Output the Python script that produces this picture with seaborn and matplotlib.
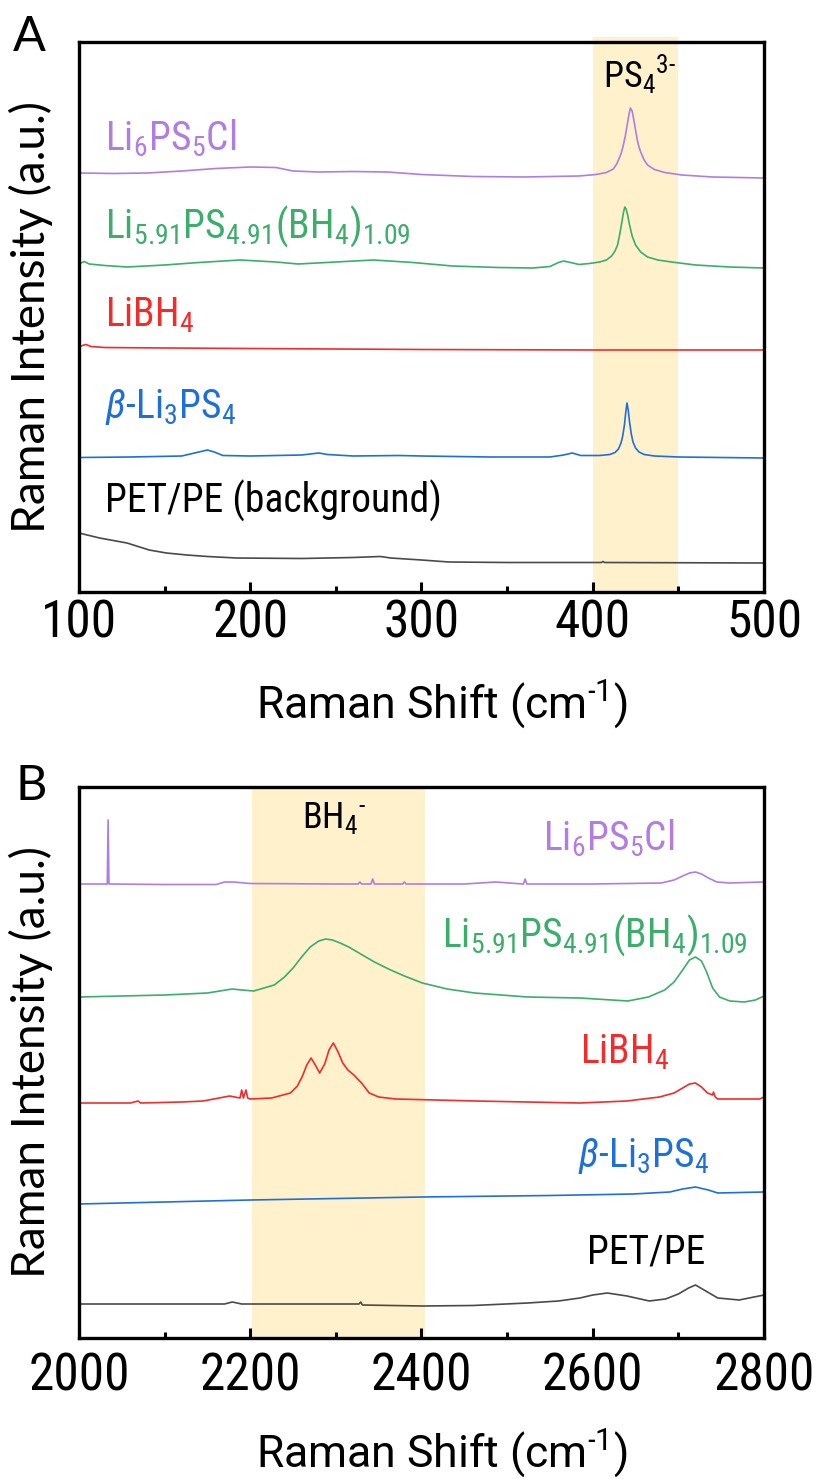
import numpy as np
import pandas as pd
import seaborn as sns
import matplotlib
matplotlib.use("Agg")
import matplotlib.pyplot as plt
import matplotlib.font_manager as fm
from matplotlib.ticker import MultipleLocator

# ---------------- data (panel A, 100-500 cm-1) ----------------
a_li6_x = [100, 120, 140, 160, 180, 200, 215, 225, 240, 260, 280, 300, 330, 360, 392, 402, 408, 412, 414,
           416, 417, 418, 419, 420, 421, 422, 423, 424, 425, 426, 427, 428, 430, 432, 436, 442, 452, 470, 500]
a_li6_y = [419, 418.5, 419, 421, 423.5, 425, 424.5, 421, 420, 420.5, 420, 417.5, 415.5, 415, 416, 417.5,
           419.5, 423, 428, 436, 441, 448, 456, 466, 476, 484, 481, 472, 462, 452, 445, 440, 432, 427, 422.5,
           419.5, 417, 415, 414]

a_lpsb_x = [100, 103, 106, 115, 128, 150, 170, 194, 215, 228, 250, 272, 295, 318, 345, 365, 375, 380, 383,
            387, 392, 398, 404, 408, 411, 413, 414.5, 416, 417, 418, 418.7, 419.5, 420.5, 421.5, 423, 425,
            428, 432, 438, 446, 460, 480, 500]
a_lpsb_y = [328, 330.5, 328, 326.5, 325, 327, 329.5, 332, 330, 328, 330, 332, 329.5, 326, 324.5, 324, 325.5,
            329.5, 331, 329.5, 327.5, 328.5, 330, 332, 336, 341, 347, 360, 370, 380, 385, 383, 376, 367, 356,
            347, 340, 335, 332, 330, 327, 325, 324]

a_libh4_x = [100, 102, 104, 107, 115, 150, 200, 300, 400, 500]
a_libh4_y = [245, 246.5, 247.5, 245.5, 244.5, 244, 243.5, 242.5, 242, 242]

a_beta_x = [100, 130, 160, 170, 175, 179, 184, 200, 230, 240, 245, 260, 287, 300, 340, 375, 383, 388, 393,
            404, 410, 413, 415, 416.5, 417.5, 418.5, 419.3, 420, 420.7, 421.5, 422.5, 423.5, 425, 427, 430,
            436, 450, 500]
a_beta_y = [134.5, 135, 136, 140, 142, 140, 136.5, 136, 137, 139, 137.5, 136, 136.5, 136, 135, 135, 137, 139,
            136.5, 136.5, 137.5, 139.5, 143, 149, 156, 167, 180, 189, 182, 170, 158, 150, 144, 140, 137.5,
            136, 135, 134]

a_pet_x = [100, 112, 128, 141, 151, 163, 175, 192, 230, 260, 276, 282, 300, 316, 350, 405, 406, 407, 500]
a_pet_y = [59, 54, 49, 42, 39, 37, 35.5, 34, 33.5, 34.5, 35.5, 34, 32, 30, 29.5, 29.5, 30.5, 29.5, 29]

# ---------------- data (panel B, 2000-2800 cm-1) ----------------
b_li6_x = [2000, 2030, 2033, 2034, 2035, 2100, 2160, 2170, 2180, 2200, 2300, 2326, 2328, 2330, 2341, 2343,
           2345, 2378, 2380, 2382, 2450, 2487, 2510, 2519, 2521, 2523, 2600, 2680, 2695, 2705, 2713, 2720,
           2727, 2735, 2745, 2760, 2800]
b_li6_y = [454, 454, 454, 518, 454, 453.5, 453.5, 456, 456, 454.5, 454, 454, 456, 454, 454, 459, 454, 454,
           456, 454, 454, 456, 454.5, 454, 459, 454, 454, 455, 458, 462, 465, 466, 464, 460, 456, 455, 456]

b_lpsb_x = [2000, 2050, 2100, 2150, 2179, 2190, 2204, 2228, 2240, 2250, 2260, 2270, 2280, 2288, 2296, 2305,
            2315, 2327, 2345, 2364, 2380, 2401, 2430, 2462, 2524, 2585, 2641, 2665, 2684, 2695, 2705, 2713,
            2720, 2727, 2733, 2740, 2748, 2760, 2777, 2790, 2800]
b_lpsb_y = [341, 342, 343, 345, 349, 348, 347, 353, 361, 370, 381, 391, 397, 399, 398, 395, 391, 385, 376,
            368, 362, 355, 349, 345, 341, 340, 337, 341, 348, 356, 368, 378, 381, 377, 366, 350, 341, 337, 336,
            338, 342]

b_libh4_x = [2000, 2060, 2069, 2072, 2120, 2145, 2176, 2188, 2190, 2192, 2195, 2197, 2200, 2225, 2247, 2255,
             2261, 2266, 2271, 2276, 2281, 2287, 2292, 2297, 2302, 2308, 2314, 2321, 2330, 2339, 2350, 2370,
             2463, 2585, 2640, 2678, 2695, 2705, 2713, 2720, 2727, 2734, 2740, 2741, 2743, 2746, 2795, 2800]
b_libh4_y = [235, 235, 237, 235, 236, 237, 242, 240, 248, 240, 248, 240, 239, 240, 245, 252, 262, 273, 280,
             273, 265, 274, 288, 295, 287, 275, 268, 263, 255, 245, 241, 239, 237, 235, 237, 241, 245, 250,
             254, 255, 251, 245, 243, 246, 241, 239, 239, 241]

b_beta_x = [2000, 2200, 2401, 2550, 2647, 2690, 2705, 2720, 2735, 2746, 2800]
b_beta_y = [134, 138, 141, 142.5, 144, 146, 149, 151, 148, 145, 146]

b_pet_x = [2000, 2170, 2179, 2190, 2327, 2329, 2331, 2401, 2460, 2524, 2560, 2585, 2600, 2617, 2640, 2666,
           2685, 2700, 2712, 2720, 2730, 2746, 2771, 2800]
b_pet_y = [34, 34, 36, 34, 34, 36, 33, 32, 32.5, 35, 37, 40, 43, 45, 42, 37, 39, 44, 50, 53, 48, 40, 38, 43]

labels_a = [r"Li$_6$PS$_5$Cl", r"Li$_{5.91}$PS$_{4.91}$(BH$_4$)$_{1.09}$", r"LiBH$_4$",
            r"$\mathit{\beta}$-Li$_3$PS$_4$", "PET/PE (background)"]
labels_b = [r"Li$_6$PS$_5$Cl", r"Li$_{5.91}$PS$_{4.91}$(BH$_4$)$_{1.09}$", r"LiBH$_4$",
            r"$\mathit{\beta}$-Li$_3$PS$_4$", "PET/PE"]
colors = ["#B27DE0", "#3BAE6B", "#F52A2A", "#1F6FDB", "#4A4A4A"]
label_colors = ["#B27DE0", "#3BAE6B", "#F52A2A", "#1F6FDB", "black"]
shade_color = "#FEF1CC"

# ---------------- style ----------------
sns.set_theme(style="ticks")
avail = {f.name for f in fm.fontManager.ttflist}
FONT = "DejaVu Sans"
for cand in ["Roboto Condensed", "Liberation Sans Narrow", "Open Sans Condensed", "Lato"]:
    if cand in avail:
        FONT = cand
        break
YFONT = "Lato" if "Lato" in avail else FONT
XFONT = "Roboto" if "Roboto" in avail else FONT
plt.rcParams["font.family"] = [FONT, "DejaVu Sans"]
plt.rcParams["text.color"] = "black"
plt.rcParams["axes.labelcolor"] = "black"
plt.rcParams["xtick.color"] = "black"
plt.rcParams["mathtext.fontset"] = "custom"
plt.rcParams["mathtext.rm"] = FONT
plt.rcParams["mathtext.it"] = FONT + ":italic"
plt.rcParams["mathtext.default"] = "regular"

fig = plt.figure(figsize=(8.28, 14.79), dpi=100)
axA = fig.add_axes([79 / 828, 1 - 592 / 1479, 685 / 828, 550 / 1479])
axB = fig.add_axes([79 / 828, 1 - 1338 / 1479, 685 / 828, 551 / 1479])

seriesA = [(a_li6_x, a_li6_y), (a_lpsb_x, a_lpsb_y), (a_libh4_x, a_libh4_y), (a_beta_x, a_beta_y),
           (a_pet_x, a_pet_y)]
seriesB = [(b_li6_x, b_li6_y), (b_lpsb_x, b_lpsb_y), (b_libh4_x, b_libh4_y), (b_beta_x, b_beta_y),
           (b_pet_x, b_pet_y)]

for ax, series in [(axA, seriesA), (axB, seriesB)]:
    for (xs, ys), c in zip(series, colors):
        df = pd.DataFrame({"x": xs, "y": ys})
        sns.lineplot(data=df, x="x", y="y", ax=ax, color=c, lw=1.2, estimator=None, sort=False,
                     zorder=3)

axA.set_xlim(100, 500)
axA.set_ylim(0, 550)
axB.set_xlim(2000, 2800)
axB.set_ylim(0, 551)

axA.axvspan(400, 450, ymin=0, ymax=1.009, color=shade_color, lw=0, zorder=0, clip_on=False)
axB.axvspan(2202, 2404, ymin=0, ymax=0.997, color=shade_color, lw=0, zorder=0)

axA.xaxis.set_major_locator(MultipleLocator(100))
axA.xaxis.set_minor_locator(MultipleLocator(50))
axB.xaxis.set_major_locator(MultipleLocator(200))
axB.xaxis.set_minor_locator(MultipleLocator(100))

xlabel = r"Raman Shift (cm$^{\text{-}1}$)"
for ax, pad in [(axA, 5), (axB, 10)]:
    ax.set_yticks([])
    for s in ax.spines.values():
        s.set_linewidth(2.4)
        s.set_color("black")
        s.set_zorder(5)
    ax.tick_params(axis="x", which="major", direction="in", length=7, width=2.2, labelsize=37,
                   pad=pad, colors="black", top=False)
    ax.tick_params(axis="x", which="minor", direction="in", length=4, width=2.2, top=False)
    ax.set_xlabel(xlabel, fontsize=32, family=XFONT, va="baseline", color="black")
    ax.set_ylabel("Raman Intensity (a.u.)", fontsize=33, family=YFONT, va="baseline", color="black")
    ax.yaxis.set_label_coords(-0.0496, 0.5)
    ax.set_facecolor("white")

axA.xaxis.set_label_coords(0.53, -0.229)
axB.xaxis.set_label_coords(0.53, -0.234)

# series labels
posA = [(115, 442), (115, 354), (115, 266), (115, 174), (115, 79)]
for (x, y), lab, c in zip(posA, labels_a, label_colors):
    axA.text(x, y, lab, color=c, fontsize=28.5, va="baseline", ha="left")
posB = [(2542, 488), (2424, 391), (2585, 275), (2583, 171), (2593, 75)]
for (x, y), lab, c in zip(posB, labels_b, label_colors):
    axB.text(x, y, lab, color=c, fontsize=28.5, va="baseline", ha="left")

axA.text(406, 505, r"PS$_4$$^{3\text{-}}$", fontsize=26, va="baseline", ha="left", color="black")
axB.text(2260, 510, r"BH$_4$$^{\text{-}}$", fontsize=26, va="baseline", ha="left", color="black")

fig.text(13 / 828, 1 - 51 / 1479, "A", fontsize=35, family=YFONT, va="baseline", ha="left")
fig.text(15 / 828, 1 - 800 / 1479, "B", fontsize=35, family=YFONT, va="baseline", ha="left")

fig.savefig("out.png", dpi=100, facecolor="white")
